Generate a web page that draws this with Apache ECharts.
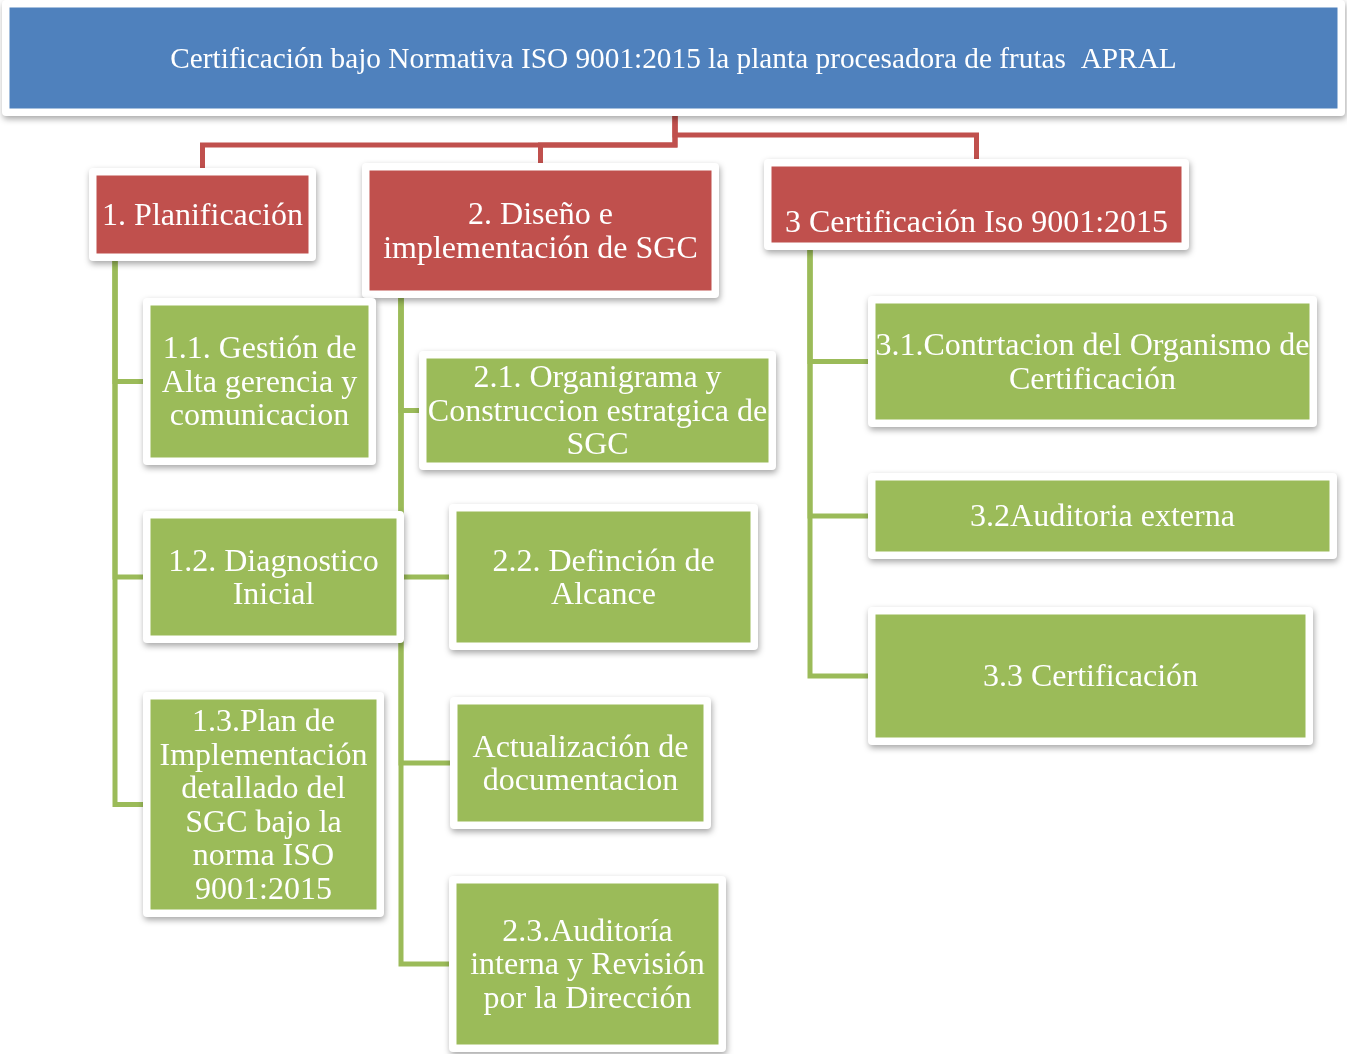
<!DOCTYPE html>
<html>
<head>
<meta charset="utf-8">
<script src="https://cdn.jsdelivr.net/npm/echarts@6/dist/echarts.min.js"></script>
<style>
html, body { margin: 0; padding: 0; background: #ffffff; }
.drawing { width: 1347px; height: 1054px; }
</style>
</head>
<body>
<div class="drawing"></div>
<script>
// nodos: 0 = titulo, 1-3 = fases, 4-13 = tareas
var labels = [
  "Certificación bajo Normativa ISO 9001:2015 la planta procesadora de frutas  APRAL",
  "1. Planificación",
  "2. Diseño e\nimplementación de SGC",
  "\n3 Certificación Iso 9001:2015",
  "1.1. Gestión de\nAlta gerencia y\ncomunicacion",
  "1.2. Diagnostico\nInicial",
  "1.3.Plan de\nImplementación\ndetallado del\nSGC bajo la\nnorma ISO\n9001:2015",
  "2.1. Organigrama y\nConstruccion estratgica de\nSGC",
  "2.2. Definción de\nAlcance",
  "Actualización de\ndocumentacion",
  "2.3.Auditoría\ninterna y Revisión\npor la Dirección",
  "3.1.Contrtacion del Organismo de\nCertificación",
  "3.2Auditoria externa",
  "3.3 Certificación"
];
var parents = [-1, 0, 0, 0, 1, 1, 1, 2, 2, 2, 2, 3, 3, 3];
var levels = [0, 1, 1, 1, 2, 2, 2, 2, 2, 2, 2, 2, 2, 2];

// marco exterior de cada caja (unidades de eje = px de la imagen)
var boxLeft   = [2, 89, 362, 764, 143, 143, 143, 419, 449, 450, 449, 868, 868, 868];
var boxTop    = [0, 168, 163, 159, 298, 511, 692, 351, 504, 697, 876, 296, 473, 607];
var boxRight  = [1345, 316, 719, 1189, 376, 404, 384, 776, 758, 711, 726, 1317, 1337, 1313];
var boxBottom = [116, 261, 298, 250, 465, 643, 917, 470, 650, 829, 1052, 427, 559, 745];

// conectores
var trunkX = 675;
var elbowY = [145, 145, 135];     // por fase
var spineX = [115, 401, 810];     // linea vertical de cada fase

var fillColors = ["#4F81BD", "#C0504D", "#9BBB59"];
var lineColors = ["#C0504D", "#9BBB59"];
var inset = 7.5;

var boxData = labels.map(function (t, i) {
  return [boxLeft[i], boxTop[i], boxRight[i], boxBottom[i], i];
});
var linkData = [];
for (var i = 1; i < labels.length; i++) {
  linkData.push([boxLeft[i], boxTop[i], i]);
}

function pt(api, x, y) {
  return api.coord([x, y]);
}

var myChart = echarts.init(document.querySelector(".drawing"));
myChart.setOption({
  animation: false,
  grid: { left: 0, right: 0, top: 0, bottom: 0 },
  xAxis: { type: "value", min: 0, max: 1347, show: false },
  yAxis: { type: "value", min: 0, max: 1054, inverse: true, show: false },
  series: [
    {
      // lineas de union
      type: "custom",
      clip: false,
      z: 1,
      data: linkData,
      encode: { x: 0, y: 1 },
      renderItem: function (params, api) {
        var i = api.value(2);
        var p = parents[i];
        var points;
        var color;
        if (levels[i] === 1) {
          var cx = (boxLeft[i] + boxRight[i]) / 2;
          var ey = elbowY[i - 1];
          points = [
            pt(api, trunkX, boxBottom[0]),
            pt(api, trunkX, ey),
            pt(api, cx, ey),
            pt(api, cx, boxTop[i] + 2)
          ];
          color = lineColors[0];
        } else {
          var sx = spineX[p - 1];
          var cy = (boxTop[i] + boxBottom[i]) / 2;
          points = [
            pt(api, sx, boxBottom[p] - 2),
            pt(api, sx, cy),
            pt(api, boxLeft[i] + 2, cy)
          ];
          color = lineColors[1];
        }
        return {
          type: "polyline",
          shape: { points: points },
          style: { stroke: color, lineWidth: 5, fill: null, lineJoin: "miter", lineCap: "butt" }
        };
      }
    },
    {
      // cajas
      type: "custom",
      clip: false,
      z: 2,
      data: boxData,
      encode: { x: [0, 2], y: [1, 3] },
      renderItem: function (params, api) {
        var i = api.value(4);
        var a = pt(api, api.value(0), api.value(1));
        var b = pt(api, api.value(2), api.value(3));
        var w = b[0] - a[0];
        var h = b[1] - a[1];
        return {
          type: "group",
          children: [
            {
              type: "rect",
              shape: { x: a[0], y: a[1], width: w, height: h, r: 4 },
              style: {
                fill: "#ffffff",
                shadowBlur: 6,
                shadowOffsetX: 1,
                shadowOffsetY: 3,
                shadowColor: "rgba(0,0,0,0.35)"
              }
            },
            {
              type: "rect",
              shape: { x: a[0] + inset, y: a[1] + inset, width: w - 2 * inset, height: h - 2 * inset },
              style: { fill: fillColors[levels[i]] }
            },
            {
              type: "text",
              z2: 10,
              style: {
                text: labels[i],
                x: a[0] + w / 2,
                y: a[1] + h / 2 + 2,
                align: "center",
                verticalAlign: "middle",
                fill: "#ffffff",
                fontFamily: "Liberation Serif",
                fontSize: i === 0 ? 29.3 : 32,
                lineHeight: 33.5
              }
            }
          ]
        };
      }
    }
  ]
});
window.addEventListener("resize", function () {
  myChart.resize();
});
</script>
</body>
</html>
